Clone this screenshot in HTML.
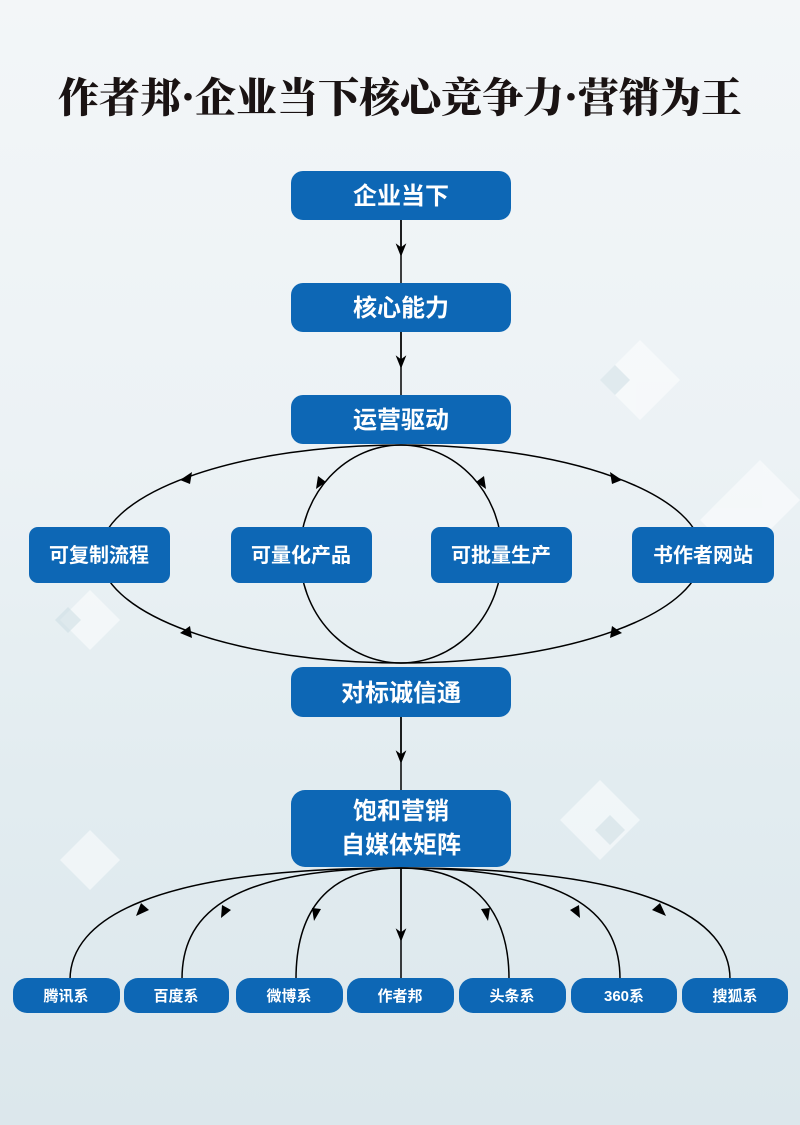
<!DOCTYPE html>
<html><head><meta charset="utf-8"><style>
html,body{margin:0;padding:0;width:800px;height:1125px;overflow:hidden}
body{background:linear-gradient(180deg,#f3f6f8 0%,#ecf2f5 40%,#e2ecf0 70%,#dce7ec 100%)}
svg{display:block}
.t{font-family:"Liberation Sans","Noto Sans CJK SC",sans-serif;font-weight:bold;fill:#fff;text-anchor:middle}
</style></head><body>
<svg width="800" height="1125" viewBox="0 0 800 1125" xmlns="http://www.w3.org/2000/svg">
<defs>
<marker id="a" viewBox="0 0 10 10" refX="5" refY="5" markerWidth="9" markerHeight="9" orient="auto-start-reverse"><path d="M0,1 L10,5 L0,9 L3,5 z" fill="#000"/></marker>
</defs>
<g fill="#ffffff" opacity="0.5">
<polygon points="600,380 640,340 680,380 640,420"/>
<polygon points="560,820 600,780 640,820 600,860"/>
<polygon points="60,620 90,590 120,620 90,650"/>
<polygon points="700,520 760,460 800,500 740,560"/>
<polygon points="60,860 90,830 120,860 90,890"/>
</g>
<g fill="#c9dbe2" opacity="0.5">
<polygon points="595,830 610,815 625,830 610,845"/>
<polygon points="600,380 615,365 630,380 615,395"/>
<polygon points="55,620 68,607 81,620 68,633"/>
</g>
<text x="400" y="112" text-anchor="middle" font-family="'Noto Serif CJK SC',serif" font-weight="900" font-size="41" fill="#1a1313">作者邦·企业当下核心竞争力·营销为王</text>
<g stroke="#000" stroke-width="1.5" fill="none">
<line x1="401" y1="220" x2="401" y2="283"/>
<path d="M401,220 L401,250" marker-end="url(#a)"/>
<line x1="401" y1="332" x2="401" y2="395"/>
<path d="M401,332 L401,362" marker-end="url(#a)"/>
<ellipse cx="401" cy="554" rx="301" ry="109"/>
<ellipse cx="401" cy="554" rx="101" ry="109"/>
<line x1="401" y1="717" x2="401" y2="790"/>
<path d="M401,717 L401,757" marker-end="url(#a)"/>
<line x1="401" y1="868" x2="401" y2="979"/>
<path d="M401,868 L401,935" marker-end="url(#a)"/>
<path d="M401,868 C150,868 70,920 70,980"/>
<path d="M401,868 C220,868 182,920 182,979"/>
<path d="M401,868 C320,868 296,920 296,979"/>
<path d="M401,868 C482,868 509,920 509,979"/>
<path d="M401,868 C582,868 620,920 620,979"/>
<path d="M401,868 C652,868 730,920 730,979"/>
</g>
<g fill="#000">
<polygon points="180,480 192,472 190,484"/>
<polygon points="622,480 610,472 612,484"/>
<polygon points="180,633 190,626 192,638"/>
<polygon points="622,633 612,626 610,638"/>
<polygon points="316,489 318,476 326,482"/>
<polygon points="486,489 476,482 484,476"/>
<polygon points="136,916 141,903 149,910"/>
<polygon points="221,918 222,905 231,910"/>
<polygon points="314,921 312,908 321,909"/>
<polygon points="488,921 481,909 490,908"/>
<polygon points="580,918 570,910 579,905"/>
<polygon points="666,916 652,910 660,903"/>
</g>
<g fill="#0d67b5">
<rect x="291" y="171" width="220" height="49" rx="12"/>
<rect x="291" y="283" width="220" height="49" rx="12"/>
<rect x="291" y="395" width="220" height="49" rx="12"/>
<rect x="29" y="527" width="141" height="56" rx="9"/>
<rect x="231" y="527" width="141" height="56" rx="9"/>
<rect x="431" y="527" width="141" height="56" rx="9"/>
<rect x="632" y="527" width="142" height="56" rx="9"/>
<rect x="291" y="667" width="220" height="50" rx="12"/>
<rect x="291" y="790" width="220" height="77" rx="14"/>
<rect x="13" y="978" width="107" height="35" rx="14"/>
<rect x="124" y="978" width="105" height="35" rx="14"/>
<rect x="236" y="978" width="107" height="35" rx="14"/>
<rect x="347" y="978" width="107" height="35" rx="14"/>
<rect x="459" y="978" width="107" height="35" rx="14"/>
<rect x="571" y="978" width="106" height="35" rx="14"/>
<rect x="682" y="978" width="106" height="35" rx="14"/>
</g>
<g class="t" font-size="24">
<text x="401" y="204">企业当下</text>
<text x="401" y="316">核心能力</text>
<text x="401" y="428">运营驱动</text>
<text x="401" y="701">对标诚信通</text>
<text x="401" y="819">饱和营销</text>
<text x="401" y="853">自媒体矩阵</text>
</g>
<g class="t" font-size="20">
<text x="99" y="562">可复制流程</text>
<text x="301" y="562">可量化产品</text>
<text x="501" y="562">可批量生产</text>
<text x="703" y="562">书作者网站</text>
</g>
<g class="t" font-size="15">
<text x="66" y="1001">腾讯系</text>
<text x="176" y="1001">百度系</text>
<text x="289" y="1001">微博系</text>
<text x="400" y="1001">作者邦</text>
<text x="512" y="1001">头条系</text>
<text x="624" y="1001">360系</text>
<text x="735" y="1001">搜狐系</text>
</g>
</svg>
</body></html>
